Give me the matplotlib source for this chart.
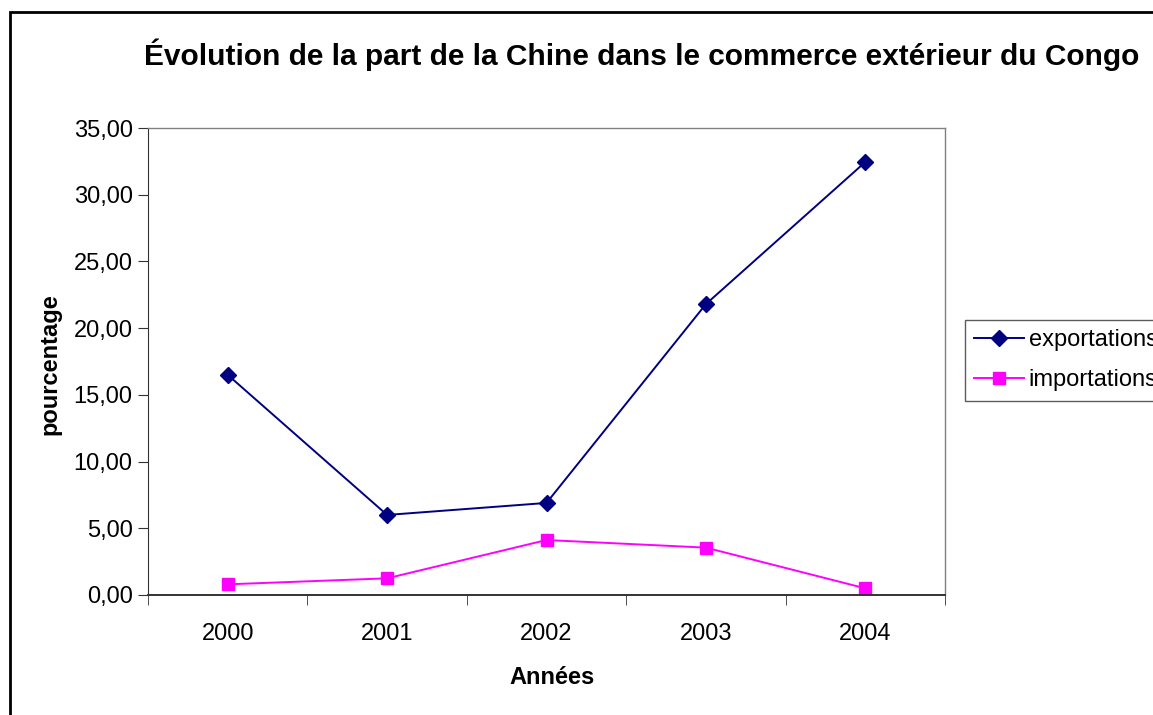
import matplotlib
matplotlib.use("Agg")
import matplotlib.pyplot as plt
from matplotlib.patches import Rectangle
from matplotlib.ticker import FixedLocator, FuncFormatter

# data
years = ["2000", "2001", "2002", "2003", "2004"]
exportations = [16.5, 6.0, 6.9, 21.8, 32.45]
importations = [0.8, 1.25, 4.12, 3.55, 0.5]
yticks = [0, 5, 10, 15, 20, 25, 30, 35]

plt.rcParams['font.family'] = ['Liberation Sans', 'DejaVu Sans']

W, H = 1153, 715
fig = plt.figure(figsize=(W / 100, H / 100), dpi=100)

# outer chart border
fig.patches.append(Rectangle((10 / W, -0.05), 1.2, 1 - 12 / H + 0.05,
                             transform=fig.transFigure, fill=False,
                             edgecolor='black', linewidth=2))

ax = fig.add_axes([148 / W, 1 - 595 / H, (945 - 148) / W, (595 - 128) / H])

x = list(range(len(years)))
ax.plot(x, exportations, color='#000080', marker='D', markersize=8,
        linewidth=1.4, label='exportations')
ax.plot(x, importations, color='#FF00FF', marker='s', markersize=8.5,
        linewidth=1.4, label='importations')

ax.set_xlim(-0.5, len(years) - 0.5)
ax.set_ylim(0, 35)
ax.set_yticks(yticks)
ax.yaxis.set_major_formatter(FuncFormatter(lambda v, p: f"{v:.2f}".replace('.', ',')))

ax.set_xticks(x)
ax.set_xticklabels(years)
ax.xaxis.set_minor_locator(FixedLocator([i - 0.5 for i in range(len(years) + 1)]))
ax.tick_params(axis='x', which='major', length=0, pad=20, labelsize=17)
ax.tick_params(axis='x', which='minor', length=7, direction='out', color='#333333')
ax.tick_params(axis='y', length=7, direction='out', labelsize=17, color='#333333', pad=4)

for side in ('top', 'right'):
    ax.spines[side].set_color('#808080')
    ax.spines[side].set_linewidth(1)
ax.spines['left'].set_color('#333333')
ax.spines['bottom'].set_color('#333333')
ax.spines['bottom'].set_linewidth(1.4)

fig.text(552 / W, 1 - 677 / H, 'Années', ha='center', va='center',
         fontsize=17, fontweight='bold')
fig.text(50 / W, 1 - 364 / H, 'pourcentage', ha='center', va='center',
         rotation=90, fontsize=17, fontweight='bold')

fig.text(642 / W, 1 - 55 / H, 'Évolution de la part de la Chine dans le commerce extérieur du Congo',
         ha='center', va='center', fontsize=21.5, fontweight='bold')

# legend runs past the right edge, as in the original
leg = fig.legend(loc='upper left', bbox_to_anchor=(965 / W, 1 - 320 / H),
                 borderaxespad=0, frameon=True, fancybox=False, fontsize=17,
                 handlelength=2.1, handletextpad=0.2, borderpad=0.4,
                 labelspacing=0.75)
leg.get_frame().set_edgecolor('#333333')
leg.get_frame().set_linewidth(1)

fig.savefig('out.png', dpi=100)
